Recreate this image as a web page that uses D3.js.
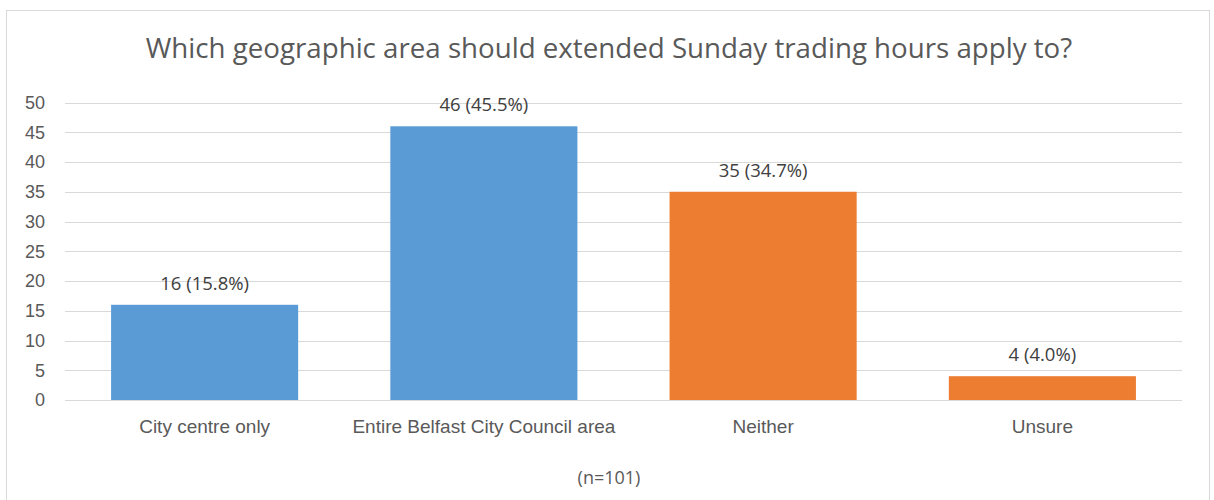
<!DOCTYPE html>
<html><head><meta charset="utf-8">
<script src="https://cdn.jsdelivr.net/npm/d3@7"></script>
<style>body{margin:0;background:#fff}svg{display:block;font-family:"Open Sans",sans-serif}</style>
</head><body>
<svg id="c" width="1214" height="500"></svg>
<script>
const categories = ["City centre only","Entire Belfast City Council area","Neither","Unsure"];
const values = [16,46,35,4];
const labels = ["16 (15.8%)","46 (45.5%)","35 (34.7%)","4 (4.0%)"];
const colors = ["#5B9BD5","#5B9BD5","#ED7D31","#ED7D31"];
const yTicks = [0,5,10,15,20,25,30,35,40,45,50];
const title = "Which geographic area should extended Sunday trading hours apply to?";
const note = "(n=101)";

const svg = d3.select("#c");
svg.append("rect").attr("x",6.5).attr("y",10.5).attr("width",1203).attr("height",500)
  .attr("fill","#fff").attr("stroke","#d9d9d9").attr("stroke-width",1);

const x = d3.scaleBand().domain(categories).range([65,1182]).paddingInner(0.33).paddingOuter(0.165);
const y = d3.scaleLinear().domain([0,50]).range([400,102.5]);

svg.append("g").selectAll("line").data(yTicks).join("line")
  .attr("x1",65).attr("x2",1182).attr("y1",d=>Math.round(y(d))+0.5).attr("y2",d=>Math.round(y(d))+0.5)
  .attr("stroke","#d9d9d9").attr("stroke-width",1);

const yAxis = svg.append("g").attr("transform","translate(65,0)")
  .call(d3.axisLeft(y).tickValues(yTicks).tickSize(0).tickPadding(20));
yAxis.select(".domain").remove();
yAxis.selectAll("text").attr("fill","#595959").style("font-size","18px").attr("text-anchor","end").attr("dx","0");

svg.append("g").selectAll("rect").data(values).join("rect")
  .attr("x",(d,i)=>x(categories[i])).attr("width",x.bandwidth())
  .attr("y",d=>y(d)).attr("height",d=>y(0)-y(d)).attr("fill",(d,i)=>colors[i]);

svg.append("g").selectAll("text").data(values).join("text")
  .attr("x",(d,i)=>x(categories[i])+x.bandwidth()/2).attr("y",d=>y(d)-15)
  .attr("text-anchor","middle").attr("fill","#404040").style("font-size","18.5px")
  .text((d,i)=>labels[i]);

const xAxis = svg.append("g").attr("transform","translate(0,400)")
  .call(d3.axisBottom(x).tickSize(0).tickPadding(20));
xAxis.select(".domain").remove();
xAxis.selectAll("text").attr("fill","#595959").style("font-size","19px");

svg.append("text").attr("x",609).attr("y",58).attr("text-anchor","middle")
  .attr("fill","#595959").style("font-size","27.7px").text(title);
svg.append("text").attr("x",609).attr("y",484).attr("text-anchor","middle")
  .attr("fill","#595959").style("font-size","18px").text(note);
</script>
</body></html>
